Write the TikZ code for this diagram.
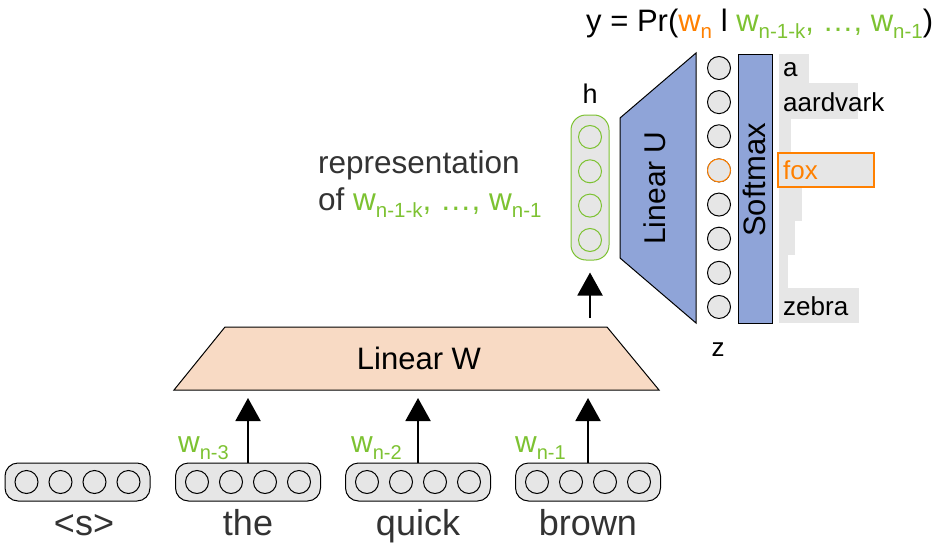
\documentclass[tikz,border=0pt]{standalone}
\usepackage{fontspec}
\setmainfont{Liberation Sans}
\usetikzlibrary{arrows.meta}
\definecolor{grn}{HTML}{7DC232}
\definecolor{org}{HTML}{FF8000}
\definecolor{peach}{HTML}{F8DAC4}
\definecolor{blu}{HTML}{8FA4D8}
\definecolor{lgray}{HTML}{E6E6E6}
\definecolor{dgray}{HTML}{333333}
\newcommand\fs[1]{\fontsize{#1}{#1}\selectfont}
\newcommand\subs[1]{\raisebox{-7pt}{\fs{20}#1}}
\newcommand\subb[1]{\raisebox{-7pt}{\fs{20.5}#1}}
\begin{document}
\begin{tikzpicture}[x=1pt,y=-1pt,
  vecbox/.style={draw, fill=lgray, rounded corners=13pt, minimum width=145pt, minimum height=38pt, line width=1pt, inner sep=0pt},
  hbox/.style={draw=grn, fill=lgray, rounded corners=15pt, minimum width=38pt, minimum height=145pt, line width=1pt, inner sep=0pt},
  unit/.style={circle, draw, fill=lgray, minimum size=23pt, inner sep=0pt, line width=1pt},
  arr/.style={line width=2pt, -{Triangle[width=25pt,length=23pt]}},
  word/.style={font=\fs{36}, text=dgray, inner sep=0pt, anchor=base},
  lbl/.style={font=\fs{26}, inner sep=0pt},
  big/.style={font=\fs{30}, inner sep=0pt},
  bigger/.style={font=\fs{31.5}, inner sep=0pt}]
\useasboundingbox (0,0) rectangle (944,543);

% word vectors
\foreach \i/\x in {0/77.5,1/248,2/418,3/588}{
  \node[vecbox] (v\i) at (\x,482) {};
  \foreach \k/\d in {1/-51,2/-17,3/17,4/51}
    \node[unit] (v\i-\k) at (\x+\d,482) {};
}
\node[word] (t0) at (84,535) {<s>};
\node[word] (t1) at (248,535) {the};
\node[word] (t2) at (418,535) {quick};
\node[word] (t3) at (588,535) {brown};

% Linear W
\draw[fill=peach, line width=1pt] (174,390) -- (225,327) -- (607,327) -- (659,390) -- cycle;
\node[big, anchor=base, font=\fs{31}] (LW) at (419,369) {Linear W};
\coordinate (in1) at (248,398);
\coordinate (in2) at (418,398);
\coordinate (in3) at (588,398);
\draw[arr] (v1.north) -- (in1);
\draw[arr] (v2.north) -- (in2);
\draw[arr] (v3.north) -- (in3);
\node[big, anchor=base west, text=grn] (l1) at (178,452) {w\subs{n-3}};
\node[big, anchor=base west, text=grn] (l2) at (351,452) {w\subs{n-2}};
\node[big, anchor=base west, text=grn] (l3) at (515,452) {w\subs{n-1}};

% h vector
\node[hbox] (hv) at (590,187.5) {};
\foreach \k/\y in {1/137,2/171.3,3/205.6,4/240}
  \node[unit, draw=grn] (h\k) at (590,\y) {};
\node[lbl, anchor=base, font=\fs{27}] (hl) at (590,103) {h};
\coordinate (Wout) at (590,318);
\draw[arr] (Wout) -- (hv.south) [shorten >=12pt];

% representation label
\node[bigger, anchor=base west, text=dgray] (rep1) at (318,173) {representation};
\node[bigger, anchor=base west, text=dgray] (rep2) at (318,210) {of \textcolor{grn}{w\subb{n-1-k}, …, w\subb{n-1}}};

% Linear U
\draw[fill=blu, line width=1pt] (620,118) -- (696,53) -- (696,323) -- (620,258) -- cycle;
\node[big, rotate=90] (LU) at (655,188) {Linear U};

% output units z
\foreach \k in {0,...,7}
  \node[unit] (z\k) at (719,68+34.14*\k) {};
\node[unit, draw=org] (zfox) at (719,170.4) {};
\node[lbl, anchor=base] (zl) at (718,356) {z};

% softmax
\node[draw, fill=blu, minimum width=34pt, minimum height=268pt, line width=1pt, inner sep=0pt] (sm) at (755,189) {};
\node[big, rotate=90, font=\fs{31}] (smt) at (754,180) {Softmax};

% distribution bars
\fill[lgray] (779,54) rectangle (809,83);
\fill[lgray] (779,83) rectangle (858,119);
\fill[lgray] (779,119) rectangle (791,153);
\fill[lgray] (779,187) rectangle (802,221);
\fill[lgray] (779,221) rectangle (795,255);
\fill[lgray] (779,255) rectangle (788,288);
\fill[lgray] (779,288) rectangle (859,323);
\draw[draw=org, fill=lgray, line width=1.3pt] (778,153) rectangle (874,187);
\node[lbl, anchor=base west] (wa) at (783,77) {a};
\node[lbl, anchor=base west] (waa) at (783,111) {aardvark};
\node[lbl, anchor=base west, text=org] (wf) at (783,179) {fox};
\node[lbl, anchor=base west] (wz) at (783,315) {zebra};

% title
\node[bigger, anchor=base west, font=\fs{31}] (title) at (586,32) {y = Pr(\textcolor{org}{w\subb{n}} l \textcolor{grn}{w\subb{n-1-k}, …, w\subb{n-1}})};
\end{tikzpicture}
\end{document}
